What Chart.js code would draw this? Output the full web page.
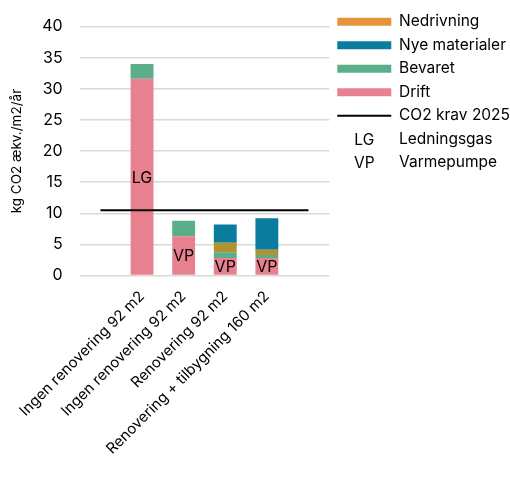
<!DOCTYPE html>
<html>
<head>
<meta charset="utf-8">
<script src="https://cdn.jsdelivr.net/npm/chart.js@4"></script>
<style>
  html, body { margin: 0; padding: 0; background: #fff; }
  #wrap { width: 510px; height: 478px; }
</style>
</head>
<body>
<div id="wrap"><canvas id="myChart" width="510" height="478"></canvas></div>
<script>
// data
var categories = ['', 'Ingen renovering 92 m2', 'Ingen renovering 92 m2', 'Renovering 92 m2', 'Renovering + tilbygning 160 m2', ''];
var drift = [null, 31.6, 6.3, 2.8, 2.8, null];
var bevaret = [null, 2.4, 2.5, 0.95, 0.5, null];
var nedrivning = [null, 0, 0, 1.5, 0.85, null];
var nyeMaterialer = [null, 0, 0, 2.95, 5.05, null];
var co2Krav = [10.5, 10.5, 10.5, 10.5, 10.5, 10.5];
var barLabels = [null, 'LG', 'VP', 'VP', 'VP', null];
var yTicks = [0, 5, 10, 15, 20, 25, 30, 35, 40];
var abbrevs = [['LG', 'Ledningsgas'], ['VP', 'Varmepumpe']];

var fontFamily = 'Inter';

// text in the middle of the Drift bars + line/abbrev entries in the legend
var extrasPlugin = {
    id: 'extras',
    afterDatasetsDraw: function (chart) {
        var ctx = chart.ctx;
        var meta = chart.getDatasetMeta(0);
        ctx.save();
        ctx.fillStyle = '#000';
        ctx.font = '16px ' + fontFamily;
        ctx.textAlign = 'center';
        ctx.textBaseline = 'middle';
        meta.data.forEach(function (bar, i) {
            if (!barLabels[i]) return;
            var p = bar.getCenterPoint();
            ctx.fillText(barLabels[i], p.x, p.y + 1);
        });
        ctx.restore();
    },
    afterDraw: function (chart) {
        var ctx = chart.ctx;
        var boxes = chart.legend.legendHitBoxes;
        var opts = chart.options.plugins.legend.labels;
        ctx.save();
        // CO2 krav line item
        var b = boxes[4];
        var yMid = b.top + opts.font.size / 2;
        ctx.strokeStyle = '#000';
        ctx.lineWidth = 2;
        ctx.beginPath();
        ctx.moveTo(b.left, yMid);
        ctx.lineTo(b.left + opts.boxWidth, yMid);
        ctx.stroke();
        // LG / VP
        ctx.fillStyle = '#000';
        ctx.font = opts.font.size + 'px ' + fontFamily;
        ctx.textAlign = 'center';
        ctx.textBaseline = 'middle';
        for (var i = 0; i < abbrevs.length; i++) {
            var h = boxes[5 + i];
            ctx.fillText(abbrevs[i][0], h.left + opts.boxWidth / 2, h.top + opts.font.size / 2 + 1);
        }
        ctx.restore();
    }
};

var ctx = document.getElementById('myChart').getContext('2d');
var myChart = new Chart(ctx, {
    type: 'bar',
    data: {
        labels: categories,
        datasets: [
            { label: 'Drift', data: drift, backgroundColor: '#e8808f', stack: 'a' },
            { label: 'Bevaret', data: bevaret, backgroundColor: '#5aaf8a', stack: 'a' },
            { label: 'Nedrivning', data: nedrivning, backgroundColor: '#b39232', stack: 'a' },
            { label: 'Nye materialer', data: nyeMaterialer, backgroundColor: '#0a7d9e', stack: 'a' },
            {
                type: 'line', label: 'CO2 krav 2025', data: co2Krav, stack: 'krav',
                borderColor: '#000', borderWidth: 2, pointRadius: 0, order: -1
            }
        ]
    },
    options: {
        responsive: false,
        animation: false,
        layout: { padding: { left: 9, right: -10, top: 6, bottom: 16 } },
        datasets: { bar: { barPercentage: 0.55, categoryPercentage: 1 } },
        scales: {
            x: {
                stacked: true,
                grid: { display: false },
                border: { display: false },
                ticks: {
                    autoSkip: false, minRotation: 45, maxRotation: 45,
                    color: '#000', font: { family: fontFamily, size: 15 }, padding: 4
                }
            },
            y: {
                stacked: true,
                min: 0, max: 40,
                afterBuildTicks: function (axis) {
                    axis.ticks = yTicks.map(function (v) { return { value: v }; });
                },
                grid: { color: '#d9d9d9', lineWidth: 1.5, drawTicks: false },
                border: { display: false },
                ticks: { color: '#000', font: { family: fontFamily, size: 16 }, padding: 17 },
                title: {
                    display: true, text: 'kg CO2 ækv./m2/år', color: '#000',
                    font: { family: fontFamily, size: 13.5 }, padding: 0
                }
            }
        },
        plugins: {
            tooltip: { enabled: false },
            legend: {
                position: 'right',
                align: 'start',
                maxWidth: 200,
                labels: {
                    boxWidth: 54, boxHeight: 8, padding: 8, color: '#000',
                    font: { family: fontFamily, size: 15.5 },
                    generateLabels: function (chart) {
                        var ds = chart.data.datasets;
                        var items = [
                            { text: ds[2].label, fillStyle: '#e3943a', lineWidth: 0, datasetIndex: 2 },
                            { text: ds[3].label, fillStyle: ds[3].backgroundColor, lineWidth: 0, datasetIndex: 3 },
                            { text: ds[1].label, fillStyle: ds[1].backgroundColor, lineWidth: 0, datasetIndex: 1 },
                            { text: ds[0].label, fillStyle: ds[0].backgroundColor, lineWidth: 0, datasetIndex: 0 },
                            { text: ds[4].label, fillStyle: 'rgba(0,0,0,0)', lineWidth: 0, datasetIndex: 4 }
                        ];
                        abbrevs.forEach(function (a) {
                            items.push({ text: a[1], fillStyle: 'rgba(0,0,0,0)', lineWidth: 0 });
                        });
                        items.forEach(function (it) { it.fontColor = '#000'; it.strokeStyle = 'rgba(0,0,0,0)'; });
                        return items;
                    }
                },
                onClick: function () {}
            }
        }
    },
    plugins: [extrasPlugin]
});
</script>
</body>
</html>
